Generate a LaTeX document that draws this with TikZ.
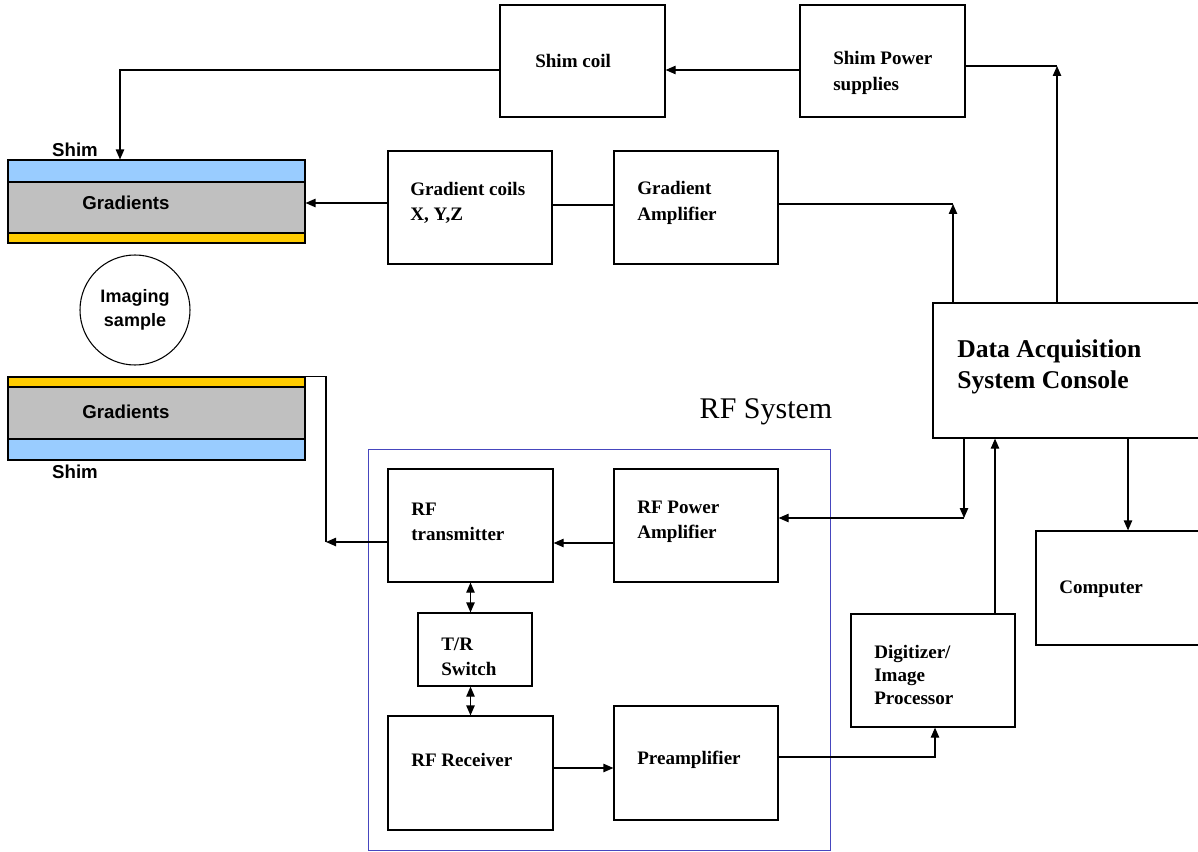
\documentclass[tikz,border=0pt]{standalone}
\usepackage{fontspec}
\setmainfont{Liberation Serif}
\newfontfamily\arialf{Liberation Sans}
\usetikzlibrary{arrows.meta,fit}
\definecolor{shimblue}{HTML}{99CCFF}
\definecolor{gradgray}{HTML}{C0C0C0}
\definecolor{coilyellow}{HTML}{FFCC00}
\definecolor{rfblue}{RGB}{70,70,190}
\begin{document}
\begin{tikzpicture}[x=0.75pt,y=-0.75pt,
 box/.style={draw, line width=0.9pt, inner sep=0pt, rectangle},
 layer/.style={draw, line width=0.8pt, inner sep=0pt, rectangle},
 lbl/.style={anchor=west, font=\fontsize{14.3}{19}\selectfont\bfseries, align=left, inner sep=0pt},
 sl/.style={font=\arialf\fontsize{14}{18.5}\selectfont\bfseries, inner sep=0pt, align=center},
 arr/.style={-{Triangle[length=7.5pt,width=6.3pt]}, line width=0.9pt},
 ln/.style={line width=0.9pt},
 darr/.style={{Triangle[length=7.5pt,width=6.3pt]}-{Triangle[length=7.5pt,width=6.3pt]}, line width=0.9pt}]
\useasboundingbox (0,0) rectangle (1198,852);
\clip (0,0) rectangle (1198,852);
\fill[white] (0,0) rectangle (1198,852);

% magnet layers
\node[layer, fill=shimblue, fit={(8,160) (305,182)}] (shim1) {};
\node[layer, fill=gradgray, fit={(8,182) (305,233)}] (grad1) {};
\node[layer, fill=coilyellow, fit={(8,233) (305,243)}] (yel1) {};
\node[layer, fill=coilyellow, fit={(8,377) (305,387)}] (yel2) {};
\node[layer, fill=gradgray, fit={(8,387) (305,439)}] (grad2) {};
\node[layer, fill=shimblue, fit={(8,439) (305,460)}] (shim2) {};
\node[sl] (shimt1) at (75,150) {Shim};
\node[sl] (gradt1) at (126,203) {Gradients};
\node[sl] (gradt2) at (126,412) {Gradients};
\node[sl] (shimt2) at (75,472) {Shim};
\node[draw, circle, line width=0.8pt, minimum size=82.5pt, inner sep=0pt,
      font=\arialf\fontsize{13.5}{18.5}\selectfont\bfseries, align=center] (sample) at (135,310) {Imaging\\sample};

% boxes
\node[box, fit={(500,5) (665,117)}] (shimcoil) {};
\node[box, fit={(800,5) (965,117)}] (shimpower) {};
\node[box, fit={(388,151) (552,264)}] (gradcoil) {};
\node[box, fit={(614,151) (778,264)}] (gradamp) {};
\node[box, fit={(933,303) (1210,438)}] (console) {};
\node[box, fit={(388,469) (553,582)}] (rftx) {};
\node[box, fit={(614,469) (778,582)}] (rfpa) {};
\node[box, fit={(418,613) (532,686)}] (trsw) {};
\node[box, fit={(388,716) (553,830)}] (rfrx) {};
\node[box, fit={(614,706) (778,820)}] (preamp) {};
\node[box, fit={(851,614) (1015,727)}] (digit) {};
\node[box, fit={(1036,531) (1210,645)}] (computer) {};
\node[draw=rfblue, line width=0.7pt, inner sep=0pt, fit={(368,449) (830,850)}] (rfsys) {};

% labels
\node[lbl] at (535,61) {Shim coil};
\node[lbl] at (833,73) {Shim Power\\supplies};
\node[lbl] at (410,203) {Gradient coils\\X, Y,Z};
\node[lbl] at (637,203) {Gradient\\Amplifier};
\node[lbl, font=\fontsize{19.2}{23}\selectfont\bfseries] at (957,367) {Data Acquisition\\System Console};
\node[inner sep=0pt, font=\fontsize{22.5}{26}\selectfont] (rfsyst) at (766,412) {RF System};
\node[lbl] at (411,522) {RF\\transmitter};
\node[lbl] at (637,522) {RF Power\\Amplifier};
\node[lbl] at (441,657) {T/R\\Switch};
\node[lbl] at (411,760) {RF Receiver};
\node[lbl] at (637,760) {Preamplifier};
\node[lbl, font=\fontsize{14.3}{17.6}\selectfont\bfseries] at (874,675) {Digitizer/\\Image\\Processor};
\node[lbl] at (1059,589) {Computer};

% coordinates
\coordinate (c1) at (1057,66);
\coordinate (c2) at (953,204);
\coordinate (c3) at (326,542);
\coordinate (c4) at (964,518);

% connectors
\draw[arr] (shimpower.west |- 0,70) -- (shimcoil.east |- 0,70);
\draw[arr] (shimcoil.west |- 0,70) -| (shim1.north -| 120,0);
\draw[ln] (shimpower.east |- c1) -- (c1);
\draw[arr] (console.north -| c1) -- (c1);
\draw[ln] (gradamp.west |- 0,205) -- (gradcoil.east |- 0,205);
\draw[arr] (gradcoil.west |- 0,203) -- (grad1.east |- 0,203);
\draw[ln] (gradamp.east |- c2) -- (c2);
\draw[arr] (console.north -| c2) -- (c2);
\draw[arr] (rftx.west |- c3) -- (c3);
\draw[ln] (c3) -- (yel2.north east -| c3) -- (yel2.north east);
\draw[arr] (rfpa.west |- 0,543) -- (rftx.east |- 0,543);
\draw[arr] (console.south -| c4) -- (c4);
\draw[arr] (c4) -- (rfpa.east |- c4);
\draw[darr] (rftx.south) -- (rftx.south |- trsw.north);
\draw[darr] (trsw.south -| rftx.south) -- (rfrx.north);
\draw[arr] (rfrx.east |- 0,768) -- (preamp.west |- 0,768);
\draw[arr] (preamp.east |- 0,757) -| (digit.south -| 935,0);
\draw[arr] (digit.north -| 995,0) -- (console.south -| 995,0);
\draw[arr] (console.south -| 1128,0) -- (computer.north -| 1128,0);
\end{tikzpicture}
\end{document}
